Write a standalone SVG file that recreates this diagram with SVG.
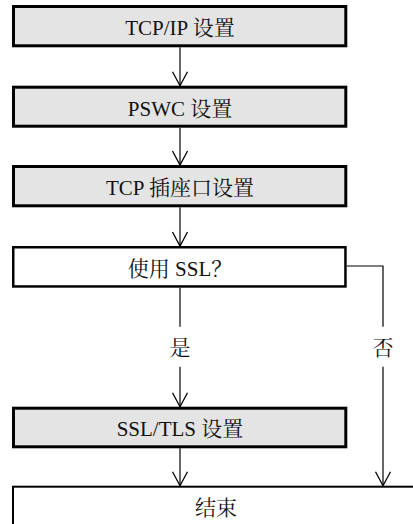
<svg xmlns="http://www.w3.org/2000/svg" width="413" height="524" viewBox="0 0 413 524">
<style>
.step{fill:#e4e4e4;stroke:#000;stroke-width:3}
.dec{fill:#fff;stroke:#000;stroke-width:2.5}
.end{fill:#fff;stroke:#000;stroke-width:2}
.t{font-family:"Liberation Serif","Noto Serif CJK SC","Noto Sans CJK SC",serif;font-size:21px;fill:#111;text-anchor:middle}
.c{fill:none;stroke:#000;stroke-width:1.2}
</style>
<defs>
<marker id="ah" markerUnits="userSpaceOnUse" markerWidth="20" markerHeight="20" viewBox="-16 -10 20 20" refX="0" refY="0" orient="auto" overflow="visible">
<path d="M-14,-7.5 L0,0 L-14,7.5" fill="none" stroke="#000" stroke-width="1.3"/>
</marker>
</defs>
<g id="connectors">
<line class="c" x1="180" y1="47.3" x2="180" y2="85.7" marker-end="url(#ah)"/>
<line class="c" x1="180" y1="127.7" x2="180" y2="165" marker-end="url(#ah)"/>
<line class="c" x1="180" y1="207.3" x2="180" y2="246" marker-end="url(#ah)"/>
<line class="c" x1="180" y1="287.7" x2="180" y2="326.7"/>
<line class="c" x1="180" y1="366.7" x2="180" y2="406.7" marker-end="url(#ah)"/>
<path class="c" d="M346.7,266 H383 V326.7"/>
<line class="c" x1="383" y1="366.7" x2="383" y2="485.7" marker-end="url(#ah)"/>
<line class="c" x1="180" y1="448.3" x2="180" y2="485.7" marker-end="url(#ah)"/>
<text class="t" x="180" y="354.5">是</text>
<text class="t" x="383" y="354.5">否</text>
</g>
<g id="tcpip">
<rect class="step" x="13.5" y="6.5" width="332.3" height="39.3"/>
<text class="t" x="180" y="34.5">TCP/IP 设置</text>
</g>
<g id="pswc">
<rect class="step" x="13.5" y="87.2" width="332.3" height="39"/>
<text class="t" x="180" y="115.5">PSWC 设置</text>
</g>
<g id="tcpsocket">
<rect class="step" x="13.5" y="166.5" width="332.3" height="39.3"/>
<text class="t" x="180" y="194.5">TCP 插座口设置</text>
</g>
<g id="usessl">
<rect class="dec" x="13.25" y="247.25" width="332.2" height="39.2"/>
<text class="t" x="180" y="275.5">使用 SSL？</text>
</g>
<g id="ssltls">
<rect class="step" x="13.5" y="408.2" width="332.3" height="38.6"/>
<text class="t" x="180" y="436">SSL/TLS 设置</text>
</g>
<g id="end">
<rect class="end" x="13" y="486.7" width="420" height="60"/>
<text class="t" x="216" y="514.5">结束</text>
</g>
</svg>
